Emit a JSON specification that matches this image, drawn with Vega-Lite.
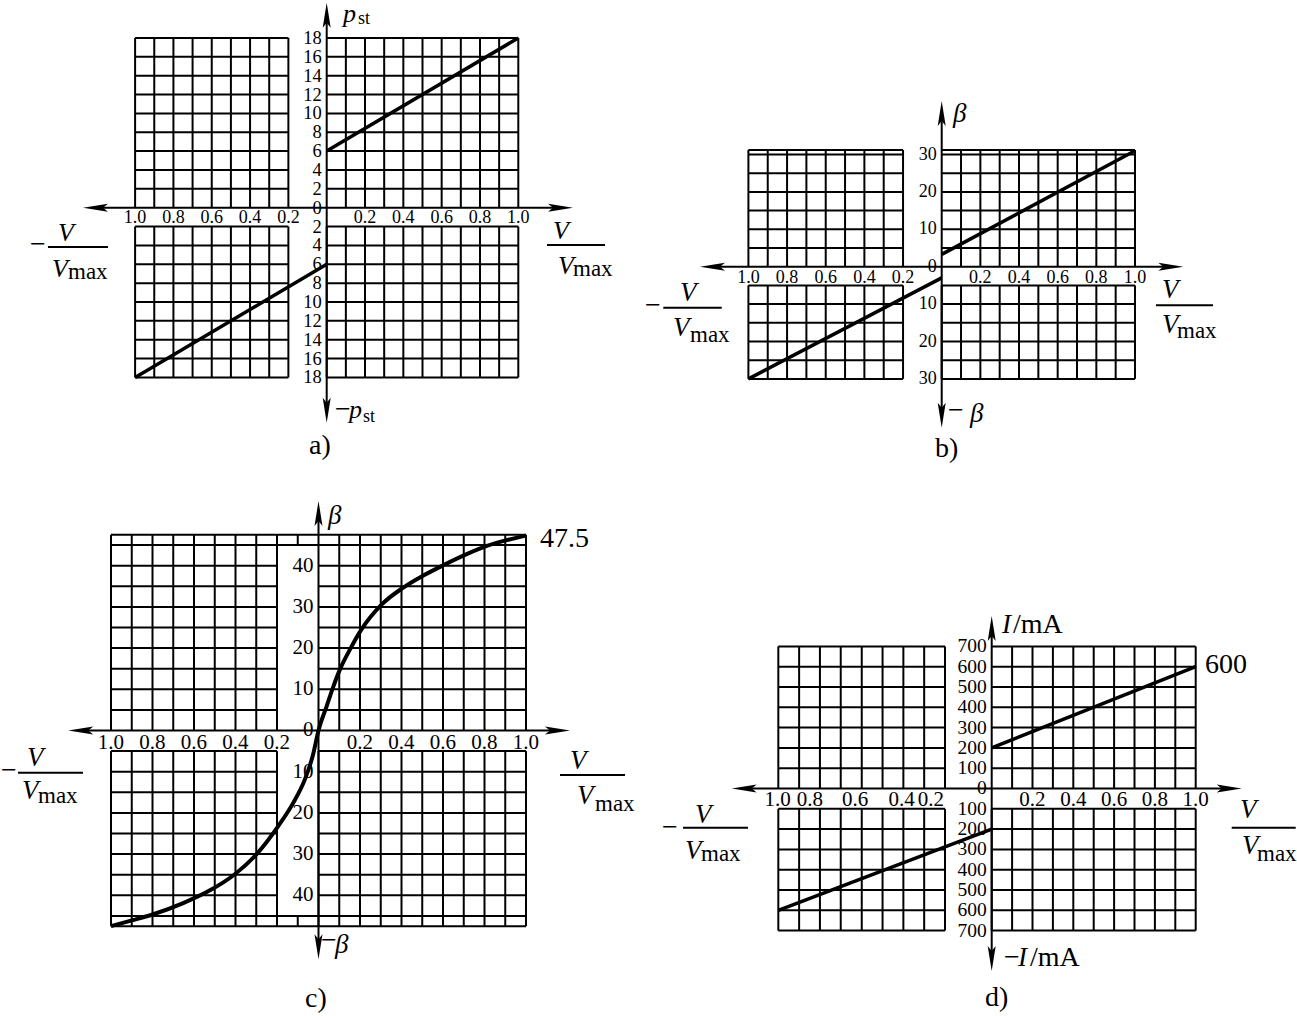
{
"$schema": "https://vega.github.io/schema/vega-lite/v6.json",
"background": "white",
"padding": 0,
"spacing": 0,
"columns": 2,
"bounds": "flush",
"config": {"view": {"stroke": null}, "text": {"font": "Liberation Serif", "color": "black"}},
"datasets": {
"aV": [
 {"xs":[-1,-0.9,-0.8,-0.7,-0.6,-0.5,-0.4,-0.3,-0.2],"y":0,"y2":18},
 {"xs":[-1,-0.9,-0.8,-0.7,-0.6,-0.5,-0.4,-0.3,-0.2],"y":-2,"y2":-18},
 {"xs":[0.1,0.2,0.3,0.4,0.5,0.6,0.7,0.8,0.9,1],"y":0,"y2":18},
 {"xs":[0,0.1,0.2,0.3,0.4,0.5,0.6,0.7,0.8,0.9,1],"y":-2,"y2":-18}
],
"aH": [
 {"ys":[2,4,6,8,10,12,14,16,18],"x":-1,"x2":-0.2},
 {"ys":[-2,-4,-6,-8,-10,-12,-14,-16,-18],"x":-1,"x2":-0.2},
 {"ys":[2,4,6,8,10,12,14,16,18],"x":0,"x2":1},
 {"ys":[-2,-4,-6,-8,-10,-12,-14,-16,-18],"x":0,"x2":1}
],
"aAx": [
 {"x":-1.22,"x2":1.2333,"y":0,"y2":0},
 {"x":0,"x2":0,"y":20.68,"y2":-21.74},
 {"x":1.1498,"x2":1.4525,"y":-3.955,"y2":-3.955},
 {"x":-1.4546,"x2":-1.1414,"y":-4.168,"y2":-4.168}
],
"aAr": [{"x":-1.272,"y":0,"d":"left"},{"x":1.2855,"y":0,"d":"right"},{"x":0,"y":21.74,"d":"up"},{"x":0,"y":-22.8,"d":"down"}],
"aL": [{"s":"u","x":0,"y":6},{"s":"u","x":1,"y":18},{"s":"l","x":-1,"y":-18},{"s":"l","x":0,"y":-6}],
"aYT": [
 {"x":0,"y":18,"t":"18"},{"x":0,"y":16,"t":"16"},{"x":0,"y":14,"t":"14"},{"x":0,"y":12,"t":"12"},{"x":0,"y":10,"t":"10"},
 {"x":0,"y":8,"t":"8"},{"x":0,"y":6,"t":"6"},{"x":0,"y":4,"t":"4"},{"x":0,"y":2,"t":"2"},{"x":0,"y":0,"t":"0"},
 {"x":0,"y":-2,"t":"2"},{"x":0,"y":-4,"t":"4"},{"x":0,"y":-6,"t":"6"},{"x":0,"y":-8,"t":"8"},{"x":0,"y":-10,"t":"10"},
 {"x":0,"y":-12,"t":"12"},{"x":0,"y":-14,"t":"14"},{"x":0,"y":-16,"t":"16"},{"x":0,"y":-18,"t":"18"}
],
"aXT": [
 {"x":-1,"y":0,"t":"1.0"},{"x":-0.8,"y":0,"t":"0.8"},{"x":-0.6,"y":0,"t":"0.6"},{"x":-0.4,"y":0,"t":"0.4"},{"x":-0.2,"y":0,"t":"0.2"},
 {"x":0.2,"y":0,"t":"0.2"},{"x":0.4,"y":0,"t":"0.4"},{"x":0.6,"y":0,"t":"0.6"},{"x":0.8,"y":0,"t":"0.8"},{"x":1,"y":0,"t":"1.0"}
],
"aTx": [
 {"x":0.0851,"y":19.7,"t":"p","r":"i"},
 {"x":0.1634,"y":19.5,"t":"st","r":"s"},
 {"x":0.0433,"y":-22.3,"t":"−","r":"r"},
 {"x":0.1164,"y":-22.3,"t":"p","r":"i"},
 {"x":0.1894,"y":-22.73,"t":"st","r":"s"},
 {"x":1.1811,"y":-3.319,"t":"V","r":"i"},
 {"x":1.2072,"y":-7.031,"t":"V","r":"i"},
 {"x":1.2855,"y":-7.243,"t":"max","r":"m"},
 {"x":-1.5485,"y":-4.857,"t":"−","r":"r"},
 {"x":-1.4024,"y":-3.531,"t":"V","r":"i"},
 {"x":-1.4337,"y":-7.349,"t":"V","r":"i"},
 {"x":-1.3502,"y":-7.561,"t":"max","r":"m"},
 {"x":-0.0924,"y":-26.12,"t":"a)","r":"r"}
],
"bV": [
 {"xs":[-1,-0.9,-0.8,-0.7,-0.6,-0.5,-0.4,-0.3,-0.2],"y":0,"y2":31.2},
 {"xs":[-1,-0.9,-0.8,-0.7,-0.6,-0.5,-0.4,-0.3,-0.2],"y":-5,"y2":-30},
 {"xs":[0.1,0.2,0.3,0.4,0.5,0.6,0.7,0.8,0.9,1],"y":0,"y2":31.2},
 {"xs":[0,0.1,0.2,0.3,0.4,0.5,0.6,0.7,0.8,0.9,1],"y":-5,"y2":-30}
],
"bH": [
 {"ys":[5,10,15,20,25,30,31.2],"x":-1,"x2":-0.2},
 {"ys":[-5,-10,-15,-20,-25,-30],"x":-1,"x2":-0.2},
 {"ys":[5,10,15,20,25,30,31.2],"x":0,"x2":1},
 {"ys":[-5,-10,-15,-20,-25,-30],"x":0,"x2":1}
],
"bAx": [
 {"x":-1.1987,"x2":1.1982,"y":0,"y2":0},
 {"x":0,"x2":0,"y":41.63,"y2":-40.38},
 {"x":1.1086,"x2":1.4035,"y":-10.32,"y2":-10.32},
 {"x":-1.4403,"x2":-1.1381,"y":-10.96,"y2":-10.96}
],
"bAr": [{"x":-1.2504,"y":0,"d":"left"},{"x":1.2499,"y":0,"d":"right"},{"x":0,"y":44.3,"d":"up"},{"x":0,"y":-43.05,"d":"down"}],
"bL": [{"s":"u","x":0,"y":3.3},{"s":"u","x":1,"y":31},{"s":"l","x":-1,"y":-30},{"s":"l","x":0,"y":-3}],
"bYT": [
 {"x":0,"y":30,"t":"30"},{"x":0,"y":20,"t":"20"},{"x":0,"y":10,"t":"10"},{"x":0,"y":0,"t":"0"},
 {"x":0,"y":-10,"t":"10"},{"x":0,"y":-20,"t":"20"},{"x":0,"y":-30,"t":"30"}
],
"bXT": [
 {"x":-1,"y":0,"t":"1.0"},{"x":-0.8,"y":0,"t":"0.8"},{"x":-0.6,"y":0,"t":"0.6"},{"x":-0.4,"y":0,"t":"0.4"},{"x":-0.2,"y":0,"t":"0.2"},
 {"x":0.2,"y":0,"t":"0.2"},{"x":0.4,"y":0,"t":"0.4"},{"x":0.6,"y":0,"t":"0.6"},{"x":0.8,"y":0,"t":"0.8"},{"x":1,"y":0,"t":"1.0"}
],
"bTx": [
 {"x":0.0585,"y":38.69,"t":"β","r":"i"},
 {"x":0.0326,"y":-40.72,"t":"−","r":"r"},
 {"x":0.1464,"y":-41.52,"t":"β","r":"i"},
 {"x":1.1397,"y":-8.369,"t":"V","r":"i"},
 {"x":1.1397,"y":-17.73,"t":"V","r":"i"},
 {"x":1.2173,"y":-19.06,"t":"max","r":"m"},
 {"x":-1.5349,"y":-12.65,"t":"−","r":"r"},
 {"x":-1.3539,"y":-9.171,"t":"V","r":"i"},
 {"x":-1.3901,"y":-18.53,"t":"V","r":"i"},
 {"x":-1.3021,"y":-20.13,"t":"max","r":"m"},
 {"x":-0.0347,"y":-50.88,"t":"b)","r":"r"}
],
"cV": [
 {"xs":[-1,-0.9,-0.8,-0.7,-0.6,-0.5,-0.4,-0.3,-0.2],"y":0,"y2":47.5},
 {"xs":[-0.1],"y":45,"y2":47.5},
 {"xs":[-1,-0.9,-0.8,-0.7,-0.6,-0.5,-0.4,-0.3,-0.2],"y":-5,"y2":-47.5},
 {"xs":[-0.1],"y":-45,"y2":-47.5},
 {"xs":[0.1,0.2,0.3,0.4,0.5,0.6,0.7,0.8,0.9,1],"y":0,"y2":47.5},
 {"xs":[0,0.1,0.2,0.3,0.4,0.5,0.6,0.7,0.8,0.9,1],"y":-5,"y2":-47.5}
],
"cH": [
 {"ys":[5,10,15,20,25,30,35,40],"x":-1,"x2":-0.2},
 {"ys":[45,47.5],"x":-1,"x2":0},
 {"ys":[-5,-10,-15,-20,-25,-30,-35,-40],"x":-1,"x2":-0.2},
 {"ys":[-45,-47.5],"x":-1,"x2":0},
 {"ys":[5,10,15,20,25,30,35,40,45,47.5],"x":0,"x2":1},
 {"ys":[-5,-10,-15,-20,-25,-30,-35,-40,-45,-47.5],"x":0,"x2":1}
],
"cAx": [
 {"x":-1.1576,"x2":1.1638,"y":0,"y2":0},
 {"x":0,"x2":0,"y":53.27,"y2":-53.1},
 {"x":1.1639,"x2":1.4771,"y":-10.8,"y2":-10.8},
 {"x":-1.4482,"x2":-1.1349,"y":-10.24,"y2":-10.24}
],
"cAr": [{"x":-1.2058,"y":0,"d":"left"},{"x":1.212,"y":0,"d":"right"},{"x":0,"y":55.7,"d":"up"},{"x":0,"y":-55.53,"d":"down"}],
"cL": [
 {"x":-1,"y":-47.5},{"x":-0.908,"y":-46.2},{"x":-0.796,"y":-44.6},{"x":-0.652,"y":-41.9},{"x":-0.523,"y":-38.8},
 {"x":-0.411,"y":-35.2},{"x":-0.298,"y":-30},{"x":-0.194,"y":-23.2},{"x":-0.121,"y":-17.5},{"x":-0.065,"y":-11.8},
 {"x":-0.027,"y":-6},{"x":0,"y":0},{"x":0.04,"y":6},{"x":0.071,"y":10.6},{"x":0.104,"y":14.9},{"x":0.152,"y":19.7},
 {"x":0.208,"y":24.6},{"x":0.305,"y":30.6},{"x":0.409,"y":34.7},{"x":0.505,"y":37.6},{"x":0.601,"y":40.1},
 {"x":0.714,"y":42.8},{"x":0.811,"y":44.8},{"x":0.907,"y":46.2},{"x":1,"y":47.3}
],
"cYT": [
 {"x":0,"y":40,"t":"40"},{"x":0,"y":30,"t":"30"},{"x":0,"y":20,"t":"20"},{"x":0,"y":10,"t":"10"},{"x":0,"y":0,"t":"0"},
 {"x":0,"y":-10,"t":"10"},{"x":0,"y":-20,"t":"20"},{"x":0,"y":-30,"t":"30"},{"x":0,"y":-40,"t":"40"}
],
"cXT": [
 {"x":-1,"y":0,"t":"1.0"},{"x":-0.8,"y":0,"t":"0.8"},{"x":-0.6,"y":0,"t":"0.6"},{"x":-0.4,"y":0,"t":"0.4"},{"x":-0.2,"y":0,"t":"0.2"},
 {"x":0.2,"y":0,"t":"0.2"},{"x":0.4,"y":0,"t":"0.4"},{"x":0.6,"y":0,"t":"0.6"},{"x":0.8,"y":0,"t":"0.8"},{"x":1,"y":0,"t":"1.0"}
],
"cTx": [
 {"x":0.0458,"y":50.12,"t":"β","r":"i"},
 {"x":0.0121,"y":-53.03,"t":"−","r":"r"},
 {"x":0.0795,"y":-54,"t":"β","r":"i"},
 {"x":1.0675,"y":44.54,"t":"47.5","r":"r"},
 {"x":1.212,"y":-9.345,"t":"V","r":"i"},
 {"x":1.2458,"y":-17.84,"t":"V","r":"i"},
 {"x":1.3325,"y":-19.54,"t":"max","r":"m"},
 {"x":-1.5301,"y":-11.77,"t":"−","r":"r"},
 {"x":-1.4048,"y":-8.617,"t":"V","r":"i"},
 {"x":-1.4289,"y":-16.63,"t":"V","r":"i"},
 {"x":-1.3518,"y":-17.6,"t":"max","r":"m"},
 {"x":-0.0651,"y":-67.11,"t":"c)","r":"r"}
],
"dV": [
 {"xs":[-1.046,-0.944,-0.842,-0.74,-0.637,-0.535,-0.433,-0.331,-0.229],"y":0,"y2":700},
 {"xs":[-1.046,-0.944,-0.842,-0.74,-0.637,-0.535,-0.433,-0.331,-0.229],"y":-100,"y2":-700},
 {"xs":[0.1,0.2,0.3,0.4,0.5,0.6,0.7,0.8,0.9,1],"y":0,"y2":700},
 {"xs":[0,0.1,0.2,0.3,0.4,0.5,0.6,0.7,0.8,0.9,1],"y":-100,"y2":-700}
],
"dH": [
 {"ys":[100,200,300,400,500,600,700],"x":-1.046,"x2":-0.229},
 {"ys":[-100,-200,-300,-400,-500,-600,-700],"x":-1.046,"x2":-0.229},
 {"ys":[100,200,300,400,500,600,700],"x":0,"x2":1},
 {"ys":[-100,-200,-300,-400,-500,-600,-700],"x":0,"x2":1}
],
"dAx": [
 {"x":-1.2255,"x2":1.1765,"y":0,"y2":0},
 {"x":0,"x2":0,"y":800.5,"y2":-849.7},
 {"x":1.1765,"x2":1.4902,"y":-193.1,"y2":-193.1},
 {"x":-1.5132,"x2":-1.1946,"y":-193.1,"y2":-193.1}
],
"dAr": [{"x":-1.2745,"y":0,"d":"left"},{"x":1.2255,"y":0,"d":"right"},{"x":0,"y":849.8,"d":"up"},{"x":0,"y":-899,"d":"down"}],
"dL": [{"s":"u","x":0,"y":200},{"s":"u","x":1,"y":600},{"s":"l","x":-1.046,"y":-600},{"s":"l","x":0,"y":-200}],
"dYT": [
 {"x":0,"y":700,"t":"700"},{"x":0,"y":600,"t":"600"},{"x":0,"y":500,"t":"500"},{"x":0,"y":400,"t":"400"},{"x":0,"y":300,"t":"300"},
 {"x":0,"y":200,"t":"200"},{"x":0,"y":100,"t":"100"},{"x":0,"y":0,"t":"0"},
 {"x":0,"y":-100,"t":"100"},{"x":0,"y":-200,"t":"200"},{"x":0,"y":-300,"t":"300"},{"x":0,"y":-400,"t":"400"},
 {"x":0,"y":-500,"t":"500"},{"x":0,"y":-600,"t":"600"},{"x":0,"y":-700,"t":"700"}
],
"dXT": [
 {"x":-1.05,"y":0,"t":"1.0"},{"x":-0.891,"y":0,"t":"0.8"},{"x":-0.67,"y":0,"t":"0.6"},{"x":-0.441,"y":0,"t":"0.4"},{"x":-0.298,"y":0,"t":"0.2"},
 {"x":0.2,"y":0,"t":"0.2"},{"x":0.4,"y":0,"t":"0.4"},{"x":0.6,"y":0,"t":"0.6"},{"x":0.8,"y":0,"t":"0.8"},{"x":1,"y":0,"t":"1.0"}
],
"dTx": [
 {"x":0.0505,"y":767.5,"t":"I","r":"i"},
 {"x":0.1044,"y":767.5,"t":"/mA","r":"r"},
 {"x":0.0603,"y":-874.4,"t":"−","r":"r"},
 {"x":0.1289,"y":-874.4,"t":"I","r":"i"},
 {"x":0.1877,"y":-874.4,"t":"/mA","r":"r"},
 {"x":1.0456,"y":569,"t":"600","r":"r"},
 {"x":1.2172,"y":-145.3,"t":"V","r":"i"},
 {"x":1.227,"y":-322.7,"t":"V","r":"i"},
 {"x":1.3005,"y":-357.1,"t":"max","r":"m"},
 {"x":-1.6162,"y":-234,"t":"−","r":"r"},
 {"x":-1.4544,"y":-168.5,"t":"V","r":"i"},
 {"x":-1.5034,"y":-347.3,"t":"V","r":"i"},
 {"x":-1.425,"y":-357.1,"t":"max","r":"m"},
 {"x":-0.0328,"y":-1071.4,"t":"d)","r":"r"}
]
},
"concat": [
{
 "width": 640, "height": 480,
 "encoding": {
  "x": {"field":"x","type":"quantitative","scale":{"domain":[-1.70511,1.63518],"nice":false,"zero":false},"axis":null},
  "y": {"field":"y","type":"quantitative","scale":{"domain":[-28.982,21.919],"nice":false,"zero":false},"axis":null}
 },
 "layer": [
  {"data":{"name":"aV"},"transform":[{"flatten":["xs"],"as":["x"]}],"mark":{"type":"rule","strokeWidth":2,"color":"black"},"encoding":{"y2":{"field":"y2"}}},
  {"data":{"name":"aH"},"transform":[{"flatten":["ys"],"as":["y"]}],"mark":{"type":"rule","strokeWidth":2,"color":"black"},"encoding":{"x2":{"field":"x2"}}},
  {"data":{"name":"aAx"},"mark":{"type":"rule","strokeWidth":2,"color":"black"},"encoding":{"x2":{"field":"x2"},"y2":{"field":"y2"}}},
  {"data":{"name":"aAr"},"transform":[{"filter":"datum.d=='up'"}],"mark":{"type":"point","shape":"M0,0L0.16,1L0,0.8L-0.16,1Z","size":2500,"filled":true,"color":"black","opacity":1,"strokeWidth":0,"angle":0},"encoding":{}},
  {"data":{"name":"aAr"},"transform":[{"filter":"datum.d=='right'"}],"mark":{"type":"point","shape":"M0,0L0.16,1L0,0.8L-0.16,1Z","size":2500,"filled":true,"color":"black","opacity":1,"strokeWidth":0,"angle":90},"encoding":{}},
  {"data":{"name":"aAr"},"transform":[{"filter":"datum.d=='down'"}],"mark":{"type":"point","shape":"M0,0L0.16,1L0,0.8L-0.16,1Z","size":2500,"filled":true,"color":"black","opacity":1,"strokeWidth":0,"angle":180},"encoding":{}},
  {"data":{"name":"aAr"},"transform":[{"filter":"datum.d=='left'"}],"mark":{"type":"point","shape":"M0,0L0.16,1L0,0.8L-0.16,1Z","size":2500,"filled":true,"color":"black","opacity":1,"strokeWidth":0,"angle":270},"encoding":{}},
  {"data":{"name":"aL"},"mark":{"type":"line","strokeWidth":3.5,"color":"black"},"encoding":{"detail":{"field":"s","type":"nominal"}}},
  {"data":{"name":"aYT"},"mark":{"type":"text","align":"right","baseline":"middle","dx":-5,"fontSize":18.5},"encoding":{"text":{"field":"t"}}},
  {"data":{"name":"aXT"},"mark":{"type":"text","align":"center","baseline":"middle","dy":10,"fontSize":18},"encoding":{"text":{"field":"t"}}},
  {"data":{"name":"aTx"},"transform":[{"filter":"datum.r=='i'"}],"mark":{"type":"text","align":"left","baseline":"alphabetic","fontSize":26,"fontStyle":"italic"},"encoding":{"text":{"field":"t"}}},
  {"data":{"name":"aTx"},"transform":[{"filter":"datum.r=='r'"}],"mark":{"type":"text","align":"left","baseline":"alphabetic","fontSize":28},"encoding":{"text":{"field":"t"}}},
  {"data":{"name":"aTx"},"transform":[{"filter":"datum.r=='m'"}],"mark":{"type":"text","align":"left","baseline":"alphabetic","fontSize":23},"encoding":{"text":{"field":"t"}}},
  {"data":{"name":"aTx"},"transform":[{"filter":"datum.r=='s'"}],"mark":{"type":"text","align":"left","baseline":"alphabetic","fontSize":18},"encoding":{"text":{"field":"t"}}}
 ]
},
{
 "width": 657, "height": 480,
 "encoding": {
  "x": {"field":"x","type":"quantitative","scale":{"domain":[-1.56079,1.83808],"nice":false,"zero":false},"axis":null},
  "y": {"field":"y","type":"quantitative","scale":{"domain":[-57.299,71.043],"nice":false,"zero":false},"axis":null}
 },
 "layer": [
  {"data":{"name":"bV"},"transform":[{"flatten":["xs"],"as":["x"]}],"mark":{"type":"rule","strokeWidth":2,"color":"black"},"encoding":{"y2":{"field":"y2"}}},
  {"data":{"name":"bH"},"transform":[{"flatten":["ys"],"as":["y"]}],"mark":{"type":"rule","strokeWidth":2,"color":"black"},"encoding":{"x2":{"field":"x2"}}},
  {"data":{"name":"bAx"},"mark":{"type":"rule","strokeWidth":2,"color":"black"},"encoding":{"x2":{"field":"x2"},"y2":{"field":"y2"}}},
  {"data":{"name":"bAr"},"transform":[{"filter":"datum.d=='up'"}],"mark":{"type":"point","shape":"M0,0L0.16,1L0,0.8L-0.16,1Z","size":2500,"filled":true,"color":"black","opacity":1,"strokeWidth":0,"angle":0},"encoding":{}},
  {"data":{"name":"bAr"},"transform":[{"filter":"datum.d=='right'"}],"mark":{"type":"point","shape":"M0,0L0.16,1L0,0.8L-0.16,1Z","size":2500,"filled":true,"color":"black","opacity":1,"strokeWidth":0,"angle":90},"encoding":{}},
  {"data":{"name":"bAr"},"transform":[{"filter":"datum.d=='down'"}],"mark":{"type":"point","shape":"M0,0L0.16,1L0,0.8L-0.16,1Z","size":2500,"filled":true,"color":"black","opacity":1,"strokeWidth":0,"angle":180},"encoding":{}},
  {"data":{"name":"bAr"},"transform":[{"filter":"datum.d=='left'"}],"mark":{"type":"point","shape":"M0,0L0.16,1L0,0.8L-0.16,1Z","size":2500,"filled":true,"color":"black","opacity":1,"strokeWidth":0,"angle":270},"encoding":{}},
  {"data":{"name":"bL"},"mark":{"type":"line","strokeWidth":3.5,"color":"black"},"encoding":{"detail":{"field":"s","type":"nominal"}}},
  {"data":{"name":"bYT"},"mark":{"type":"text","align":"right","baseline":"middle","dx":-5,"fontSize":18},"encoding":{"text":{"field":"t"}}},
  {"data":{"name":"bXT"},"mark":{"type":"text","align":"center","baseline":"middle","dy":11,"fontSize":18},"encoding":{"text":{"field":"t"}}},
  {"data":{"name":"bTx"},"transform":[{"filter":"datum.r=='i'"}],"mark":{"type":"text","align":"left","baseline":"alphabetic","fontSize":27,"fontStyle":"italic"},"encoding":{"text":{"field":"t"}}},
  {"data":{"name":"bTx"},"transform":[{"filter":"datum.r=='r'"}],"mark":{"type":"text","align":"left","baseline":"alphabetic","fontSize":28},"encoding":{"text":{"field":"t"}}},
  {"data":{"name":"bTx"},"transform":[{"filter":"datum.r=='m'"}],"mark":{"type":"text","align":"left","baseline":"alphabetic","fontSize":23},"encoding":{"text":{"field":"t"}}}
 ]
},
{
 "width": 640, "height": 536,
 "encoding": {
  "x": {"field":"x","type":"quantitative","scale":{"domain":[-1.53494,1.5494],"nice":false,"zero":false},"axis":null},
  "y": {"field":"y","type":"quantitative","scale":{"domain":[-69.539,60.558],"nice":false,"zero":false},"axis":null}
 },
 "layer": [
  {"data":{"name":"cV"},"transform":[{"flatten":["xs"],"as":["x"]}],"mark":{"type":"rule","strokeWidth":2,"color":"black"},"encoding":{"y2":{"field":"y2"}}},
  {"data":{"name":"cH"},"transform":[{"flatten":["ys"],"as":["y"]}],"mark":{"type":"rule","strokeWidth":2,"color":"black"},"encoding":{"x2":{"field":"x2"}}},
  {"data":{"name":"cAx"},"mark":{"type":"rule","strokeWidth":2,"color":"black"},"encoding":{"x2":{"field":"x2"},"y2":{"field":"y2"}}},
  {"data":{"name":"cAr"},"transform":[{"filter":"datum.d=='up'"}],"mark":{"type":"point","shape":"M0,0L0.16,1L0,0.8L-0.16,1Z","size":2500,"filled":true,"color":"black","opacity":1,"strokeWidth":0,"angle":0},"encoding":{}},
  {"data":{"name":"cAr"},"transform":[{"filter":"datum.d=='right'"}],"mark":{"type":"point","shape":"M0,0L0.16,1L0,0.8L-0.16,1Z","size":2500,"filled":true,"color":"black","opacity":1,"strokeWidth":0,"angle":90},"encoding":{}},
  {"data":{"name":"cAr"},"transform":[{"filter":"datum.d=='down'"}],"mark":{"type":"point","shape":"M0,0L0.16,1L0,0.8L-0.16,1Z","size":2500,"filled":true,"color":"black","opacity":1,"strokeWidth":0,"angle":180},"encoding":{}},
  {"data":{"name":"cAr"},"transform":[{"filter":"datum.d=='left'"}],"mark":{"type":"point","shape":"M0,0L0.16,1L0,0.8L-0.16,1Z","size":2500,"filled":true,"color":"black","opacity":1,"strokeWidth":0,"angle":270},"encoding":{}},
  {"data":{"name":"cL"},"mark":{"type":"line","strokeWidth":4,"color":"black","interpolate":"monotone"},"encoding":{}},
  {"data":{"name":"cYT"},"mark":{"type":"text","align":"right","baseline":"middle","dx":-5,"fontSize":21},"encoding":{"text":{"field":"t"}}},
  {"data":{"name":"cXT"},"mark":{"type":"text","align":"center","baseline":"middle","dy":13,"fontSize":21},"encoding":{"text":{"field":"t"}}},
  {"data":{"name":"cTx"},"transform":[{"filter":"datum.r=='i'"}],"mark":{"type":"text","align":"left","baseline":"alphabetic","fontSize":27,"fontStyle":"italic"},"encoding":{"text":{"field":"t"}}},
  {"data":{"name":"cTx"},"transform":[{"filter":"datum.r=='r'"}],"mark":{"type":"text","align":"left","baseline":"alphabetic","fontSize":28},"encoding":{"text":{"field":"t"}}},
  {"data":{"name":"cTx"},"transform":[{"filter":"datum.r=='m'"}],"mark":{"type":"text","align":"left","baseline":"alphabetic","fontSize":23},"encoding":{"text":{"field":"t"}}}
 ]
},
{
 "width": 657, "height": 536,
 "encoding": {
  "x": {"field":"x","type":"quantitative","scale":{"domain":[-1.72402,1.49657],"nice":false,"zero":false},"axis":null},
  "y": {"field":"y","type":"quantitative","scale":{"domain":[-1125.62,1514.78],"nice":false,"zero":false},"axis":null}
 },
 "layer": [
  {"data":{"name":"dV"},"transform":[{"flatten":["xs"],"as":["x"]}],"mark":{"type":"rule","strokeWidth":2,"color":"black"},"encoding":{"y2":{"field":"y2"}}},
  {"data":{"name":"dH"},"transform":[{"flatten":["ys"],"as":["y"]}],"mark":{"type":"rule","strokeWidth":2,"color":"black"},"encoding":{"x2":{"field":"x2"}}},
  {"data":{"name":"dAx"},"mark":{"type":"rule","strokeWidth":2,"color":"black"},"encoding":{"x2":{"field":"x2"},"y2":{"field":"y2"}}},
  {"data":{"name":"dAr"},"transform":[{"filter":"datum.d=='up'"}],"mark":{"type":"point","shape":"M0,0L0.16,1L0,0.8L-0.16,1Z","size":2500,"filled":true,"color":"black","opacity":1,"strokeWidth":0,"angle":0},"encoding":{}},
  {"data":{"name":"dAr"},"transform":[{"filter":"datum.d=='right'"}],"mark":{"type":"point","shape":"M0,0L0.16,1L0,0.8L-0.16,1Z","size":2500,"filled":true,"color":"black","opacity":1,"strokeWidth":0,"angle":90},"encoding":{}},
  {"data":{"name":"dAr"},"transform":[{"filter":"datum.d=='down'"}],"mark":{"type":"point","shape":"M0,0L0.16,1L0,0.8L-0.16,1Z","size":2500,"filled":true,"color":"black","opacity":1,"strokeWidth":0,"angle":180},"encoding":{}},
  {"data":{"name":"dAr"},"transform":[{"filter":"datum.d=='left'"}],"mark":{"type":"point","shape":"M0,0L0.16,1L0,0.8L-0.16,1Z","size":2500,"filled":true,"color":"black","opacity":1,"strokeWidth":0,"angle":270},"encoding":{}},
  {"data":{"name":"dL"},"mark":{"type":"line","strokeWidth":3.5,"color":"black"},"encoding":{"detail":{"field":"s","type":"nominal"}}},
  {"data":{"name":"dYT"},"mark":{"type":"text","align":"right","baseline":"middle","dx":-5,"fontSize":19.5},"encoding":{"text":{"field":"t"}}},
  {"data":{"name":"dXT"},"mark":{"type":"text","align":"center","baseline":"middle","dy":12,"fontSize":21},"encoding":{"text":{"field":"t"}}},
  {"data":{"name":"dTx"},"transform":[{"filter":"datum.r=='i'"}],"mark":{"type":"text","align":"left","baseline":"alphabetic","fontSize":27,"fontStyle":"italic"},"encoding":{"text":{"field":"t"}}},
  {"data":{"name":"dTx"},"transform":[{"filter":"datum.r=='r'"}],"mark":{"type":"text","align":"left","baseline":"alphabetic","fontSize":28},"encoding":{"text":{"field":"t"}}},
  {"data":{"name":"dTx"},"transform":[{"filter":"datum.r=='m'"}],"mark":{"type":"text","align":"left","baseline":"alphabetic","fontSize":23},"encoding":{"text":{"field":"t"}}}
 ]
}
]
}
